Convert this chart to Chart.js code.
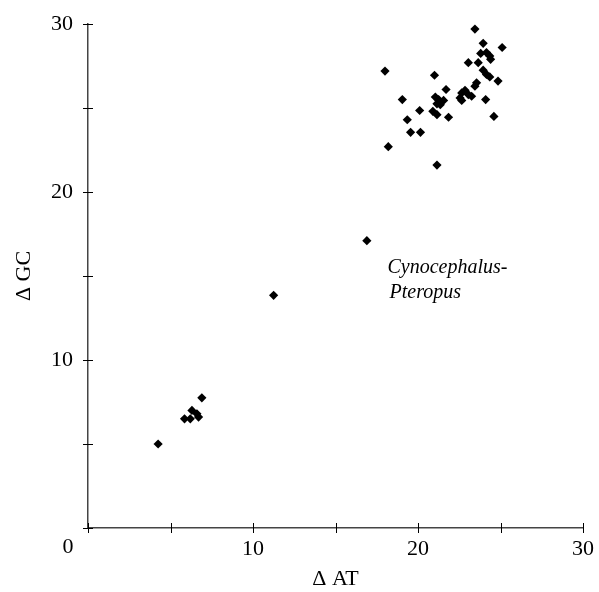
<!DOCTYPE html>
<html>
<head>
<meta charset="utf-8">
<script src="https://cdn.jsdelivr.net/npm/chart.js@4"></script>
<style>
  html, body { margin: 0; padding: 0; background: #fff; }
  #wrap { width: 599px; height: 592px; }
</style>
</head>
<body>
<div id="wrap"><canvas id="chart"></canvas></div>
<script>
// substitution differences per species pair: AT changes vs GC changes
const deltaAT = [
  23.45, 18.0, 23.95, 25.1, 23.8, 24.15, 24.35, 24.4, 23.05, 23.65,
  21.0, 23.95, 24.15, 24.35, 24.85, 23.55, 23.45, 21.7, 22.65, 22.85,
  23.05, 23.25, 22.55, 22.65, 24.1, 19.05, 21.05, 21.25, 21.15, 21.55,
  21.35, 20.1, 20.9, 21.15, 21.85, 24.6, 19.35, 19.55, 20.15, 18.2,
  21.15, 16.9, 11.25, 6.9, 4.25, 5.85, 6.2, 6.3, 6.6, 6.7
]
const deltaGC = [
  29.7, 27.2, 28.85, 28.6, 28.25, 28.3, 28.1, 27.9, 27.7, 27.7,
  26.95, 27.25, 27.0, 26.85, 26.6, 26.5, 26.3, 26.1, 25.9, 26.05,
  25.8, 25.7, 25.6, 25.45, 25.5, 25.5, 25.65, 25.5, 25.25, 25.45,
  25.2, 24.85, 24.8, 24.6, 24.45, 24.5, 24.3, 23.55, 23.55, 22.7,
  21.6, 17.1, 13.85, 7.75, 5.0, 6.5, 6.5, 7.0, 6.8, 6.6
]

const tickValues    = [0, 5, 10, 15, 20, 25, 30]
const labelledTicks = [10, 20, 30]
const originLabel   = "0"
const noteLines     = ["Cynocephalus-", "Pteropus"]
const noteAnchor    = { x: 18.15, y: 15.2 }   // where the note text starts

const serif = "'Liberation Serif', 'Times New Roman', serif"
const tickFont = { family: serif, size: 22 }
const labelPad = 8

// ticks that cross the axis lines, the shared "0" and the italic note
const axisDecor = {
  id: "axisDecor",
  afterDraw(chart) {
    const { ctx, chartArea: a, scales: { x, y } } = chart
    ctx.save()
    ctx.strokeStyle = "#000"
    ctx.lineWidth = 1
    ctx.beginPath()
    tickValues.forEach((v) => {
      const px = Math.round(x.getPixelForValue(v)) + 0.5
      ctx.moveTo(px, a.bottom - 5)
      ctx.lineTo(px, a.bottom + 5)
      const py = Math.round(y.getPixelForValue(v)) + 0.5
      ctx.moveTo(a.left - 5, py)
      ctx.lineTo(a.left + 5, py)
    })
    ctx.stroke()

    ctx.fillStyle = "#000"
    ctx.font = `${tickFont.size}px ${serif}`
    ctx.textAlign = "center"
    ctx.textBaseline = "top"
    ctx.fillText(originLabel, a.left - 20, a.bottom + labelPad)

    ctx.font = `italic 20px ${serif}`
    ctx.textAlign = "left"
    ctx.textBaseline = "alphabetic"
    const nx = x.getPixelForValue(noteAnchor.x)
    const ny = y.getPixelForValue(noteAnchor.y)
    noteLines.forEach((line, i) => ctx.fillText(line, nx + (i ? 2 : 0), ny + i * 25))
    ctx.restore()
  },
}

const points = deltaAT.map((v, i) => ({ x: v, y: deltaGC[i] }))

new Chart(document.getElementById("chart"), {
  type: "scatter",
  data: {
    datasets: [{
      data: points,
      pointStyle: "rectRot",
      pointRadius: 4.6,
      pointHoverRadius: 4.6,
      backgroundColor: "#000",
      borderColor: "#000",
      borderWidth: 0,
    }],
  },
  options: {
    responsive: true,
    maintainAspectRatio: false,
    animation: false,
    layout: { padding: { top: 24, right: 16, bottom: 0, left: 0 } },
    plugins: { legend: { display: false }, tooltip: { enabled: false } },
    scales: {
      x: {
        type: "linear",
        min: 0,
        max: 30,
        afterFit: (s) => {
          s.height = 64
          s.paddingLeft = 0
          s.paddingRight = 0
        },
        grid: { display: false, drawTicks: false },
        border: { display: true, color: "#444", width: 1.5 },
        ticks: {
          stepSize: 5,
          autoSkip: false,
          maxRotation: 0,
          padding: labelPad,
          color: "#000",
          font: tickFont,
          callback: (v) => labelledTicks.includes(v) ? String(v) : "",
        },
        title: {
          display: true,
          text: "Δ AT",
          color: "#000",
          font: tickFont,
          padding: { top: 0, bottom: 0 },
        },
      },
      y: {
        type: "linear",
        min: 0,
        max: 30,
        afterFit: (s) => {
          s.width = 88
          s.paddingTop = 0
          s.paddingBottom = 0
        },
        grid: { display: false, drawTicks: false },
        border: { display: true, color: "#444", width: 1.5 },
        ticks: {
          stepSize: 5,
          autoSkip: false,
          padding: 15,
          color: "#000",
          font: tickFont,
          callback: (v) => labelledTicks.includes(v) ? String(v) : "",
        },
        title: {
          display: true,
          text: "Δ GC",
          color: "#000",
          font: tickFont,
          padding: { top: 11, bottom: 0 },
        },
      },
    },
  },
  plugins: [axisDecor],
})
</script>
</body>
</html>
